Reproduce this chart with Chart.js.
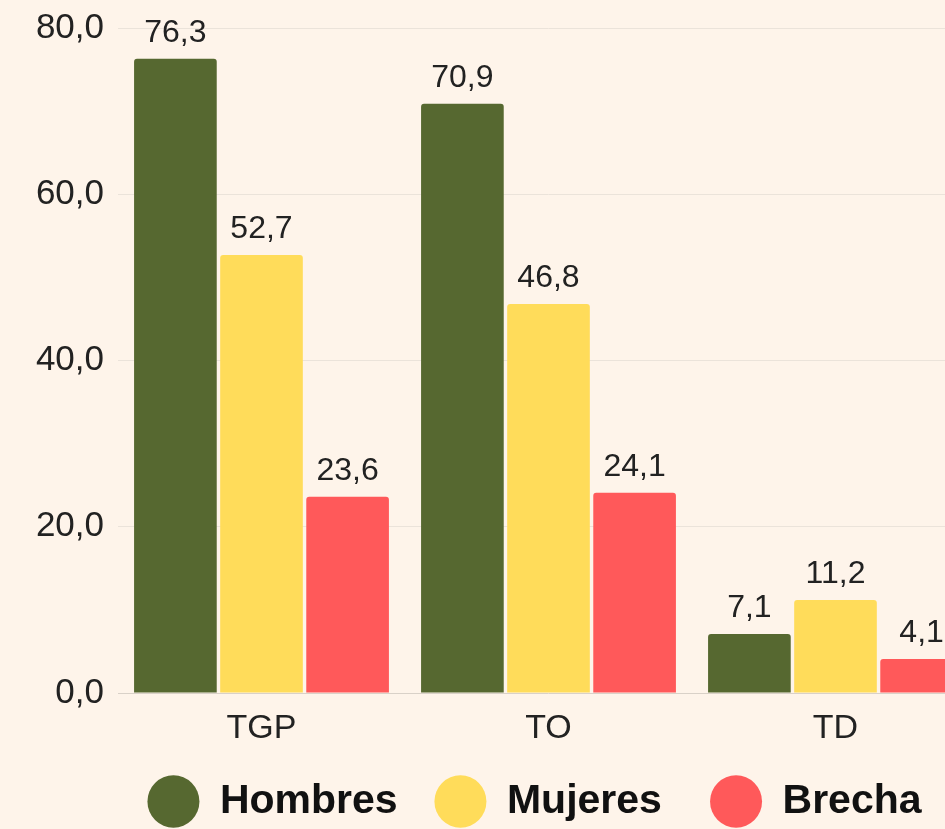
<!DOCTYPE html>
<html>
<head>
<meta charset="utf-8">
<script src="https://cdn.jsdelivr.net/npm/chart.js@4.4.0/dist/chart.umd.min.js"></script>
<style>
  html, body { margin: 0; padding: 0; background: #fef4ea; overflow: hidden; }
  #wrap { width: 945px; height: 829px; overflow: hidden; }
</style>
</head>
<body>
<div id="wrap"><canvas id="myChart" width="1000" height="829"></canvas></div>
<script>
const categories = ["TGP", "TO", "TD"];
const hombres = [76.3, 70.9, 7.1];
const mujeres = [52.7, 46.8, 11.2];
const brecha = [23.6, 24.1, 4.1];
const yTicks = [0, 20, 40, 60, 80];

const fmt = v => v.toFixed(1).replace('.', ',');

// draw value labels above each bar
const valueLabels = {
  id: 'valueLabels',
  afterDatasetsDraw(chart) {
    const ctx = chart.ctx;
    ctx.save();
    ctx.font = '32px "Liberation Sans", Arial, sans-serif';
    ctx.fillStyle = '#222';
    ctx.textAlign = 'center';
    ctx.textBaseline = 'alphabetic';
    chart.data.datasets.forEach((ds, i) => {
      chart.getDatasetMeta(i).data.forEach((bar, j) => {
        ctx.fillText(fmt(ds.data[j]), bar.x, bar.y - 17);
      });
    });
    ctx.restore();
  }
};

// legend sits a bit right of the canvas centre in the original
const legendShift = {
  id: 'legendShift',
  afterLayout(chart) {
    chart.legend.left += 35;
    chart.legend.right += 35;
  }
};

let myChart = new Chart(document.getElementById('myChart').getContext('2d'), {
  type: 'bar',
  data: {
    labels: categories,
    datasets: [
      { label: 'Hombres  ', data: hombres, backgroundColor: '#566830' },
      { label: 'Mujeres   ', data: mujeres, backgroundColor: '#ffdc5a' },
      { label: 'Brecha', data: brecha, backgroundColor: '#ff595a' }
    ]
  },
  options: {
    responsive: false,
    animation: false,
    devicePixelRatio: 1,
    layout: { padding: { left: 20, right: 21, top: 22, bottom: -3 } },
    datasets: {
      bar: { categoryPercentage: 0.9, barPercentage: 0.96, borderRadius: 3, borderWidth: 0 }
    },
    plugins: {
      tooltip: { enabled: false },
      legend: {
        position: 'bottom',
        labels: {
          usePointStyle: true,
          pointStyle: 'circle',
          boxHeight: 37,
          pointStyleWidth: 52,
          padding: 14,
          color: '#111',
          font: { family: '"Liberation Sans", Arial, sans-serif', size: 41, weight: 'bold' }
        }
      }
    },
    scales: {
      x: {
        grid: { display: false },
        border: { display: false },
        ticks: {
          color: '#222',
          padding: 7,
          font: { family: '"Liberation Sans", Arial, sans-serif', size: 34 }
        },
        afterFit: s => { s.height = 74; }
      },
      y: {
        min: 0,
        max: 80,
        afterBuildTicks: s => { s.ticks = yTicks.map(v => ({ value: v })); },
        afterFit: s => { s.width = 98; },
        border: { display: false },
        grid: {
          drawTicks: false,
          color: c => c.tick.value === 0 ? '#d9d1c8' : '#ebe3da',
          lineWidth: 1
        },
        ticks: {
          color: '#222',
          padding: 14,
          font: { family: '"Liberation Sans", Arial, sans-serif', size: 35, lineHeight: 0.8 },
          callback: v => fmt(v)
        }
      }
    }
  },
  plugins: [valueLabels, legendShift]
});
</script>
</body>
</html>
